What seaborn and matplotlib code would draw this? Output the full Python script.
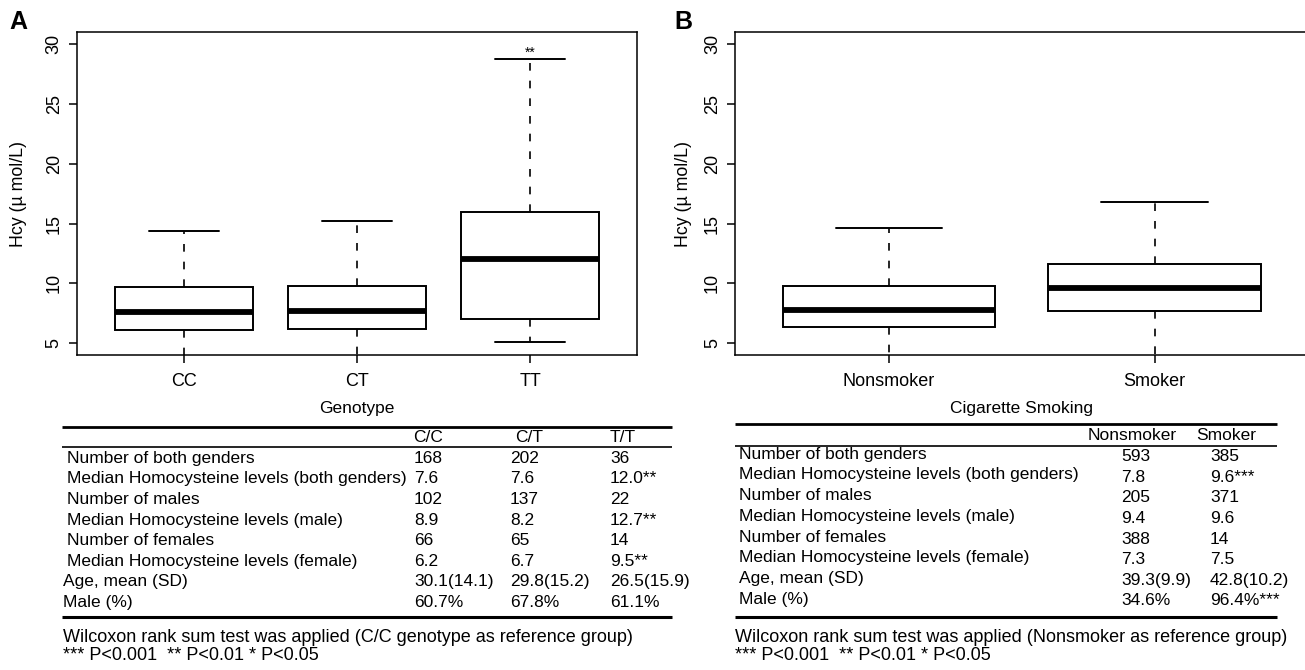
import matplotlib
matplotlib.use("Agg")
import matplotlib.pyplot as plt
import numpy as np
import pandas as pd
import seaborn as sns
from matplotlib.lines import Line2D

# ---------------- data ----------------
genotype = ["CC", "CT", "TT"]
geno_whislo = [2.0, 2.0, 5.05]
geno_q1 = [6.1, 6.15, 7.0]
geno_median = [7.6, 7.65, 12.0]
geno_q3 = [9.65, 9.8, 16.0]
geno_whishi = [14.35, 15.25, 28.75]

smoking = ["Nonsmoker", "Smoker"]
smk_whislo = [2.0, 2.0]
smk_q1 = [6.35, 7.7]
smk_median = [7.8, 9.6]
smk_q3 = [9.75, 11.6]
smk_whishi = [14.6, 16.8]

yticks = [5, 10, 15, 20, 25, 30]

row_labels = [
    "Number of both genders",
    "Median Homocysteine levels (both genders)",
    "Number of males",
    "Median Homocysteine levels (male)",
    "Number of females",
    "Median Homocysteine levels (female)",
    "Age, mean (SD)",
    "Male (%)",
]
geno_cols = ["C/C", "C/T", "T/T"]
geno_cc = ["168", "7.6", "102", "8.9", "66", "6.2", "30.1(14.1)", "60.7%"]
geno_ct = ["202", "7.6", "137", "8.2", "65", "6.7", "29.8(15.2)", "67.8%"]
geno_tt = ["36", "12.0**", "22", "12.7**", "14", "9.5**", "26.5(15.9)", "61.1%"]

smk_cols = ["Nonsmoker", "Smoker"]
smk_non = ["593", "7.8", "205", "9.4", "388", "7.3", "39.3(9.9)", "34.6%"]
smk_yes = ["385", "9.6***", "371", "9.6", "14", "7.5", "42.8(10.2)", "96.4%***"]

note_a = "Wilcoxon rank sum test was applied (C/C genotype as reference group)"
note_b = "Wilcoxon rank sum test was applied (Nonsmoker as reference group)"
sig_note = "*** P<0.001  ** P<0.01 * P<0.05"

# ---------------- style ----------------
sns.set_style("ticks")
plt.rcParams["font.family"] = ["Liberation Sans", "DejaVu Sans"]
plt.rcParams["axes.edgecolor"] = "black"
plt.rcParams["axes.linewidth"] = 1.1
plt.rcParams["text.color"] = "black"
plt.rcParams["axes.labelcolor"] = "black"

W, H = 1305, 670
fig = plt.figure(figsize=(W / 100, H / 100), dpi=100)
fig.patch.set_facecolor("white")


def fx(x):
    return x / W


def fy(y):
    return 1 - y / H


def make_long(cats, lo, q1, med, q3, hi):
    rows = []
    for i, c in enumerate(cats):
        for v in (lo[i], q1[i], med[i], q3[i], hi[i]):
            rows.append({"group": c, "value": v})
    return pd.DataFrame(rows)


dfA = make_long(genotype, geno_whislo, geno_q1, geno_median, geno_q3, geno_whishi)
dfB = make_long(smoking, smk_whislo, smk_q1, smk_median, smk_q3, smk_whishi)

top_px, bot_px = 32.3, 355.0
axA = fig.add_axes([fx(76.7), fy(bot_px), (637.3 - 76.7) / W, (bot_px - top_px) / H])
axB = fig.add_axes([fx(735.0), fy(bot_px), (1308.5 - 735.0) / W, (bot_px - top_px) / H])

box_kw = dict(
    whis=(0, 100),
    width=0.8,
    color="white",
    linecolor="black",
    linewidth=1.4,
    fill=True,
    showfliers=False,
    saturation=1,
    medianprops=dict(linewidth=4.2, color="black", solid_capstyle="butt"),
    whiskerprops=dict(linestyle=(0, (4.6, 6.0)), linewidth=1.2),
    capprops=dict(linewidth=1.4),
)

sns.boxplot(data=dfA, x="group", y="value", order=genotype, ax=axA, **box_kw)
sns.boxplot(data=dfB, x="group", y="value", order=smoking, ax=axB, **box_kw)

for ax, xl, lab_x in ((axA, (-0.62, 2.62), -0.1047), (axB, (-0.58, 1.58), -0.089)):
    ax.set_xlim(*xl)
    ax.set_ylim(4, 31)
    ax.set_yticks(yticks)
    ax.set_xlabel("")
    ax.set_ylabel("Hcy (\u00b5 mol/L)", fontsize=12.8, va="center")
    ax.yaxis.set_label_coords(lab_x, 0.5)
    ax.tick_params(axis="both", direction="out", length=6, width=1.1,
                   labelsize=13, color="black", labelcolor="black")
    ax.tick_params(axis="x", pad=7)
    ax.tick_params(axis="y", pad=4, labelrotation=90)
    for lbl in ax.get_yticklabels():
        lbl.set_va("center")
    for s in ax.spines.values():
        s.set_visible(True)
        s.set_linewidth(1.1)
        s.set_color("black")
    ax.set_facecolor("white")
    ax.grid(False)

axA.text(2, geno_whishi[2] + 0.55, "**", ha="center", va="center", fontsize=10)

# panel letters
fig.text(fx(18), fy(22), "A", fontsize=18, fontweight="bold", ha="center", va="center")
fig.text(fx(683), fy(22), "B", fontsize=18, fontweight="bold", ha="center", va="center")

FS = 12.5
FS_NOTE = 13.0


def hline(x0, x1, y, lw):
    fig.add_artist(Line2D([fx(x0), fx(x1)], [fy(y), fy(y)], transform=fig.transFigure,
                          color="black", linewidth=lw, solid_capstyle="butt"))


def txt(x, y, s, ha="left", fs=FS):
    fig.text(fx(x), fy(y), s, fontsize=fs, ha=ha, va="center", color="black")


# ---------------- table A ----------------
txt(357, 408.3, "Genotype", ha="center")
hline(61.7, 671.7, 426.7, 2.0)
hline(61.7, 671.7, 446.5, 1.2)
hline(61.7, 671.7, 617.3, 2.2)
for s, x in zip(geno_cols, [413.3, 515, 609.3]):
    txt(x, 437.2, s)
for i, lab in enumerate(row_labels):
    y = 458.3 + i * 20.6
    txt(66.7 if i < 6 else 62.7, y, lab)
    txt(414, y, geno_cc[i])
    txt(510, y, geno_ct[i])
    txt(610, y, geno_tt[i])
txt(62.7, 637.3, note_a, fs=FS_NOTE)
txt(62.7, 656.0, sig_note, fs=FS_NOTE)

# ---------------- table B ----------------
txt(1022, 408.3, "Cigarette Smoking", ha="center")
hline(735, 1276.7, 424.3, 2.0)
hline(735, 1276.7, 445.5, 1.2)
hline(735, 1276.7, 617.0, 2.2)
for s, x in zip(smk_cols, [1087.3, 1196]):
    txt(x, 435.5, s)
for i, lab in enumerate(row_labels):
    txt(739.3, 454.3 + i * 20.7, lab)
    y = 456.7 + i * 20.6
    txt(1121, y, smk_non[i])
    txt(1210, y, smk_yes[i])
txt(735, 637.3, note_b, fs=FS_NOTE)
txt(735, 656.0, sig_note, fs=FS_NOTE)

fig.savefig("out.png", dpi=100, facecolor="white")
